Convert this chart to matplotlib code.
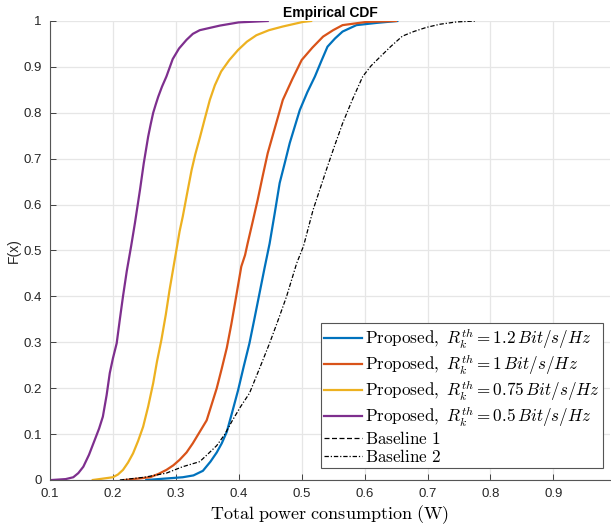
import numpy as np
import matplotlib.pyplot as plt

plt.rcParams['mathtext.fontset'] = 'cm'
plt.rcParams['font.family'] = ['Liberation Sans', 'DejaVu Sans']

# 读图得到的经验CDF（功率 W, F(x)）
x_12 = [0.253, 0.311, 0.328, 0.343, 0.355, 0.365, 0.373, 0.381, 0.39, 0.399, 0.408,
        0.417, 0.425, 0.433, 0.441, 0.449, 0.457, 0.465, 0.473, 0.481, 0.489, 0.497,
        0.509, 0.521, 0.531, 0.541, 0.553, 0.565, 0.587, 0.62, 0.652]
f_12 = [0.0, 0.006, 0.01, 0.02, 0.04, 0.06, 0.08, 0.105, 0.15, 0.196, 0.248,
        0.298, 0.352, 0.407, 0.462, 0.515, 0.58, 0.647, 0.69, 0.734, 0.77, 0.806,
        0.845, 0.879, 0.912, 0.944, 0.962, 0.977, 0.991, 0.996, 1.0]

x_10 = [0.219, 0.259, 0.272, 0.285, 0.296, 0.306, 0.317, 0.327, 0.338, 0.349, 0.357,
        0.365, 0.373, 0.381, 0.388, 0.394, 0.399, 0.404, 0.41, 0.414, 0.422, 0.43,
        0.438, 0.446, 0.458, 0.47, 0.485, 0.5, 0.517, 0.534, 0.55, 0.565, 0.603, 0.65]
f_10 = [0.0, 0.006, 0.013, 0.022, 0.032, 0.044, 0.06, 0.08, 0.105, 0.13, 0.165,
        0.2, 0.243, 0.288, 0.338, 0.385, 0.425, 0.465, 0.49, 0.515, 0.562, 0.61,
        0.662, 0.712, 0.77, 0.828, 0.873, 0.915, 0.942, 0.966, 0.98, 0.991, 0.998, 1.0]

x_075 = [0.168, 0.2, 0.208, 0.216, 0.224, 0.232, 0.24, 0.248, 0.256, 0.264, 0.27,
         0.277, 0.284, 0.29, 0.296, 0.302, 0.306, 0.311, 0.318, 0.325, 0.331, 0.338,
         0.346, 0.354, 0.362, 0.372, 0.385, 0.399, 0.413, 0.428, 0.448, 0.47, 0.502, 0.515]
f_075 = [0.0, 0.006, 0.012, 0.022, 0.038, 0.058, 0.085, 0.116, 0.16, 0.211, 0.258,
         0.305, 0.36, 0.414, 0.462, 0.51, 0.542, 0.574, 0.625, 0.675, 0.71, 0.745,
         0.787, 0.828, 0.86, 0.89, 0.915, 0.937, 0.955, 0.969, 0.98, 0.988, 0.998, 1.0]

x_05 = [0.103, 0.125, 0.137, 0.145, 0.153, 0.162, 0.171, 0.178, 0.184, 0.19, 0.195,
        0.2, 0.206, 0.211, 0.216, 0.222, 0.229, 0.235, 0.243, 0.249, 0.256, 0.26,
        0.264, 0.268, 0.272, 0.278, 0.285, 0.29, 0.295, 0.305, 0.317, 0.327, 0.338,
        0.37, 0.4, 0.446]
f_05 = [0.0, 0.002, 0.006, 0.015, 0.029, 0.055, 0.087, 0.112, 0.138, 0.185, 0.233,
        0.265, 0.298, 0.35, 0.40, 0.455, 0.51, 0.56, 0.632, 0.69, 0.748, 0.775,
        0.80, 0.818, 0.835, 0.857, 0.879, 0.898, 0.917, 0.94, 0.959, 0.972, 0.980,
        0.99, 0.997, 1.0]

# Baseline 1 在图中不可见，只出现在图例里
x_b1 = []
f_b1 = []

x_b2 = [0.211, 0.25, 0.285, 0.311, 0.338, 0.352, 0.365, 0.378, 0.39, 0.403, 0.417,
        0.433, 0.449, 0.463, 0.476, 0.492, 0.503, 0.518, 0.539, 0.552, 0.565, 0.581,
        0.597, 0.61, 0.624, 0.642, 0.66, 0.678, 0.698, 0.72, 0.746, 0.777]
f_b2 = [0.0, 0.006, 0.015, 0.029, 0.04, 0.058, 0.075, 0.1, 0.13, 0.16, 0.189,
        0.243, 0.298, 0.35, 0.40, 0.472, 0.51, 0.588, 0.675, 0.727, 0.777, 0.83,
        0.879, 0.902, 0.921, 0.945, 0.967, 0.977, 0.986, 0.993, 0.998, 1.0]

labels = [r'$\mathrm{Proposed,}\ R_k^{th} = 1.2\,Bit/s/Hz$',
          r'$\mathrm{Proposed,}\ R_k^{th} = 1\,Bit/s/Hz$',
          r'$\mathrm{Proposed,}\ R_k^{th} = 0.75\,Bit/s/Hz$',
          r'$\mathrm{Proposed,}\ R_k^{th} = 0.5\,Bit/s/Hz$',
          r'$\mathrm{Baseline\ 1}$',
          r'$\mathrm{Baseline\ 2}$']

fig = plt.figure(figsize=(6.11, 5.25), dpi=100)
ax = fig.add_axes([50/611, 45/525, 560/611, 459/525])

ax.plot(x_12, f_12, color='#0072BD', linewidth=1.6, label=labels[0])
ax.plot(x_10, f_10, color='#D95319', linewidth=1.6, label=labels[1])
ax.plot(x_075, f_075, color='#EDB120', linewidth=1.6, label=labels[2])
ax.plot(x_05, f_05, color='#7E2F8E', linewidth=1.6, label=labels[3])
ax.plot(x_b1, f_b1, color='black', linestyle=(0, (4, 2)), linewidth=0.9, label=labels[4])
ax.plot(x_b2, f_b2, color='black', linestyle=(0, (3.5, 1.5, 1, 1.5)), linewidth=0.9,
        label=labels[5])

ax.set_xlim(0.1, 0.99)
ax.set_ylim(0, 1)
ax.set_xticks(np.arange(0.1, 0.95, 0.1))
ax.set_xticklabels(['0.1', '0.2', '0.3', '0.4', '0.5', '0.6', '0.7', '0.8', '0.9'])
ax.set_yticks(np.arange(0, 1.05, 0.1))
ax.set_yticklabels(['0', '0.1', '0.2', '0.3', '0.4', '0.5', '0.6', '0.7', '0.8', '0.9', '1'])
ax.tick_params(direction='in', length=4, width=0.6, colors='#262626', labelsize=9.5)
ax.tick_params(axis='x', pad=6)
ax.tick_params(axis='y', pad=6)
ax.grid(True, color='#e6e6e6', linewidth=0.9)
ax.set_axisbelow(True)
for s in ['top', 'right']:
    ax.spines[s].set_visible(False)
for s in ['left', 'bottom']:
    ax.spines[s].set_color('#555555')
    ax.spines[s].set_linewidth(0.8)

ax.set_xlabel(r'$\mathrm{Total\ power\ consumption\ (W)}$', fontsize=13, labelpad=2)
ax.set_ylabel('F(x)', fontsize=10, color='#262626', labelpad=2)
ax.set_title('Empirical CDF', fontsize=10, fontweight='bold', pad=3)

leg = ax.legend(loc='lower right', bbox_to_anchor=(603/611, 57/525),
                bbox_transform=fig.transFigure, borderaxespad=0,
                fontsize=12.3, handlelength=2.2, handletextpad=0.15,
                labelspacing=0.05, borderpad=0.2, fancybox=False, framealpha=1)
leg.get_frame().set_edgecolor('#555555')
leg.get_frame().set_linewidth(0.8)

fig.savefig('out.png', dpi=100)
